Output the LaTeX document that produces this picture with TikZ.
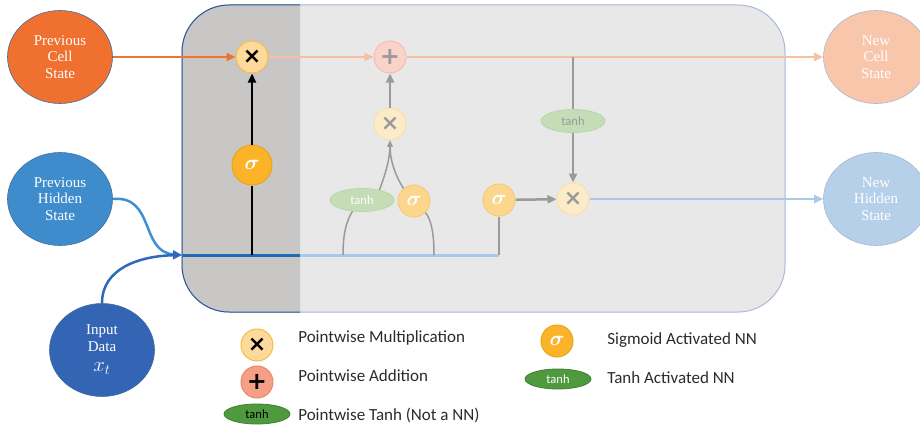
\documentclass[tikz,border=0pt]{standalone}
\usepackage{fontspec}
\setmainfont{Liberation Serif}
\newfontfamily\calfont{Carlito}
\newfontfamily\symfont{DejaVu Sans}
\usepackage{tikz}
\usetikzlibrary{arrows.meta,shapes.geometric}

\definecolor{cellorange}{HTML}{F07030}
\definecolor{hidblue}{HTML}{3E8CCB}
\definecolor{inblue}{HTML}{3464B4}
\definecolor{cellpeach}{HTML}{F8C6AB}
\definecolor{hidlight}{HTML}{B5D0E8}
\definecolor{rimblue}{HTML}{41719C}
\definecolor{rimlight}{HTML}{A9B8CE}
\definecolor{boxdark}{HTML}{C8C7C6}
\definecolor{boxlight}{HTML}{E8E8E8}
\definecolor{boxrimdark}{HTML}{2F5597}
\definecolor{boxrim}{HTML}{A9B8D6}
\definecolor{lineorange}{HTML}{EF7434}
\definecolor{orangefade}{HTML}{F8C0A2}
\definecolor{lineblue}{HTML}{1E6CB8}
\definecolor{bluefade}{HTML}{A8C9E9}
\definecolor{linegray}{HTML}{9A9A9A}
\definecolor{multfill}{HTML}{FDD99B}
\definecolor{multrim}{HTML}{F5BC45}
\definecolor{sigfill}{HTML}{FBB42A}
\definecolor{sigrim}{HTML}{E8A41C}
\definecolor{multfade}{HTML}{FCEBC9}
\definecolor{multfaderim}{HTML}{FADFA6}
\definecolor{plusfade}{HTML}{F9D3C7}
\definecolor{plusfaderim}{HTML}{F4BFAF}
\definecolor{tanhfade}{HTML}{C4DDB7}
\definecolor{tanhfaderim}{HTML}{B9D5AA}
\definecolor{sigfade}{HTML}{FBD68C}
\definecolor{sigfaderim}{HTML}{F5CA7E}
\definecolor{addfill}{HTML}{F5A086}
\definecolor{addrim}{HTML}{E98567}
\definecolor{tanhdark}{HTML}{4F9A3F}
\definecolor{tanhrim}{HTML}{3F7F31}
\definecolor{hidcurve}{HTML}{3F8FD2}
\definecolor{incurve}{HTML}{3068BC}
\definecolor{legtext}{HTML}{2B2B2B}

\newcommand{\mulsign}{{\symfont\bfseries\fontsize{22}{22}\selectfont ×}}
\newcommand{\addsign}{{\symfont\bfseries\fontsize{24}{24}\selectfont +}}
\newcommand{\sigm}{{\fontsize{20}{20}\selectfont\boldmath$\sigma$}}

\begin{document}
\begin{tikzpicture}[x=1pt,y=-1pt,>={Triangle[length=9pt,width=8pt]},semithick,
    memo/.style={ellipse,minimum width=105,minimum height=93,inner sep=0,
                 line width=0.6,text=white,align=center,
                 font=\fontsize{15}{16.5}\selectfont},
    op/.style={circle,minimum size=32,inner sep=0,line width=1},
    nn/.style={ellipse,minimum width=64,minimum height=23,inner sep=0,
               line width=0.8,font=\calfont\fontsize{12.5}{13}\selectfont},
    thin tip/.style={-{Triangle[length=6pt,width=5pt]}},
    legend/.style={anchor=west,inner sep=0,text=legtext,
                   font=\calfont\fontsize{17}{17}\selectfont}]

  \useasboundingbox (0,0) rectangle (920,428);

  % the cell
  \draw[rounded corners=47,fill=boxlight,draw=boxrim,line width=1]
    (182,5) rectangle (785,312);
  \begin{scope}
    \clip (170,0) rectangle (300,330);
    \draw[rounded corners=47,fill=boxdark,draw=boxrimdark,line width=1]
      (182,5) rectangle (785,312);
  \end{scope}

  % states
  \node[memo,fill=cellorange,draw=rimblue] (C0) at (60,57)   {Previous\\Cell\\State};
  \node[memo,fill=hidblue,draw=rimblue]    (H0) at (60,199)  {Previous\\Hidden\\State};
  \node[memo,fill=inblue,draw=rimblue]     (X)  at (102,350) {Input\\Data\\[4pt]{\fontsize{20}{20}\selectfont$x_t$}};
  \node[memo,fill=cellpeach,draw=rimlight] (C1) at (876,57)  {New\\Cell\\State};
  \node[memo,fill=hidlight,draw=rimlight]  (H1) at (876,199) {New\\Hidden\\State};

  % gates
  \node[op,fill=multfill,draw=multrim]                     (F)  at (252,57)  {\mulsign};
  \node[op,minimum size=40,fill=sigfill,draw=sigrim,text=white] (S1) at (252,165) {\sigm};
  \node[op,fill=plusfade,draw=plusfaderim,text=linegray]   (P)  at (390,57)  {\addsign};
  \node[op,fill=multfade,draw=multfaderim,text=linegray]   (M1) at (390,124) {\mulsign};
  \node[nn,fill=tanhfade,draw=tanhfaderim,text=white]      (T1) at (362,200) {tanh};
  \node[op,fill=sigfade,draw=sigfaderim,text=white]        (S2) at (414,201) {\sigm};
  \node[op,fill=sigfade,draw=sigfaderim,text=white]        (S3) at (499,200) {\sigm};
  \node[op,fill=multfade,draw=multfaderim,text=linegray]   (M2) at (573,199) {\mulsign};
  \node[nn,fill=tanhfade,draw=tanhfaderim,text=linegray]   (T2) at (573,121) {tanh};

  \coordinate (J)  at (182,255);
  \coordinate (Jd) at (300,255);
  \coordinate (Jf) at (252,255);
  \coordinate (Ja) at (343,255);
  \coordinate (Jb) at (434,255);
  \coordinate (Jo) at (499,255);
  \coordinate (Co) at (573,57);

  \draw[line width=3,lineblue] (J) -- (Jd);
  \draw[line width=3,bluefade] (Jd) -- (Jo);
  \draw[line width=2.5,linegray] (Jo) -- (S3);

  \path[->,line width=2]
    (C0) edge[draw=lineorange,fill=lineorange] (F)
    (F)  edge[draw=orangefade,fill=orangefade] (P)
    (P)  edge[draw=orangefade,fill=orangefade] (C1)
    (M2) edge[draw=bluefade,fill=bluefade]     (H1);

  \draw[line width=2.5] (Jf) -- (S1);
  \draw[->,line width=2.5] (S1) -- (F);
  \draw[->,line width=2.5,linegray] (M1) -- (P);
  \draw[line width=2.5,linegray] (Co) -- (T2);
  \draw[->,line width=2.5,linegray] (T2) -- (M2);
  \draw[->,line width=2.5,linegray] (S3) -- (M2);

  \draw[line width=1.5,linegray] (Ja) .. controls (343,232) and (347,220) .. (T1.230);
  \draw[thin tip,line width=1.5,linegray] (T1.30) .. controls (384,178) and (390,160) .. (M1);
  \draw[thin tip,line width=1.5,linegray] (S2.130) .. controls (395,175) and (390,160) .. (M1);
  \draw[line width=1.5,linegray] (Jb) .. controls (434,232) and (431,220) .. (S2.-45);

  \draw[->,line width=2.5,hidcurve] (H0.east) .. controls (155,195) and (140,252) .. (J);
  \draw[->,line width=2.5,incurve] (X.north) .. controls (102,268) and (140,256) .. (J);

  % legend
  \node[op,fill=multfill,draw=multrim]                       (Lm) at (257,345) {\mulsign};
  \node[op,fill=addfill,draw=addrim]                         (La) at (257,382) {\addsign};
  \node[nn,minimum width=66,minimum height=20,fill=tanhdark,draw=tanhrim] (Lt) at (257,414) {tanh};
  \node[op,fill=sigfill,draw=sigrim,text=white]              (Ls) at (557,341) {\sigm};
  \node[nn,minimum width=66,minimum height=20,fill=tanhdark,draw=tanhrim,text=white] (Ln) at (558,379) {tanh};

  \node[legend] (Lmt) at (298,338) {Pointwise Multiplication};
  \node[legend] (Lat) at (298,376) {Pointwise Addition};
  \node[legend] (Ltt) at (298,415) {Pointwise Tanh (Not a NN)};
  \node[legend] (Lst) at (607,340) {Sigmoid Activated NN};
  \node[legend] (Lnt) at (607,378) {Tanh Activated NN};

\end{tikzpicture}
\end{document}
